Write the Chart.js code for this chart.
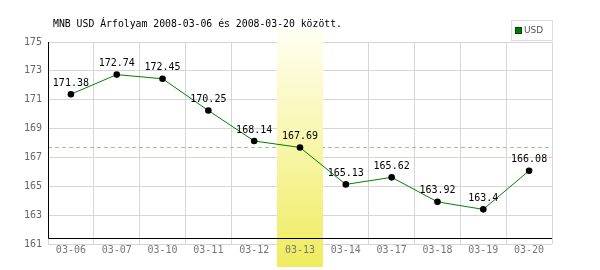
<!DOCTYPE html>
<html>
<head>
<meta charset="utf-8">
<script src="https://cdn.jsdelivr.net/npm/chart.js@4/dist/chart.umd.min.js"></script>
<style>
  html, body { margin: 0; padding: 0; background: #fff; }
  #wrap { width: 600px; height: 270px; }
</style>
</head>
<body>
<div id="wrap"><canvas id="c" width="600" height="270"></canvas></div>
<script>
// ---- Data ----
const titleText = "MNB USD Árfolyam 2008-03-06 és 2008-03-20 között.";
const seriesName = "USD";
const categories = ["03-06", "03-07", "03-10", "03-11", "03-12", "03-13", "03-14", "03-17", "03-18", "03-19", "03-20"];
const usdValues = [171.38, 172.74, 172.45, 170.25, 168.14, 167.69, 165.13, 165.62, 163.92, 163.4, 166.08];
const valueLabels = ["171.38", "172.74", "172.45", "170.25", "168.14", "167.69", "165.13", "165.62", "163.92", "163.4", "166.08"];
const highlightIndex = 5;
const referenceValue = 167.69;
const yMin = 161, yMax = 175, yStep = 2;

// ---- Styles ----
const MONO = '"DejaVu Sans Mono", "Liberation Mono", monospace';
const GRID = '#d6d6d6';

const decorPlugin = {
  id: 'decor',
  beforeDatasetsDraw(chart) {
    const { ctx, chartArea, scales } = chart;
    const x = scales.x, y = scales.y;
    // dashed reference line
    const ry = Math.round(y.getPixelForValue(referenceValue)) + 0.5;
    ctx.save();
    ctx.strokeStyle = '#93cc93';
    ctx.lineWidth = 1;
    ctx.setLineDash([4, 3]);
    ctx.beginPath();
    ctx.moveTo(chartArea.left, ry);
    ctx.lineTo(chartArea.right, ry);
    ctx.stroke();
    ctx.restore();
    // highlight column
    const cx = x.getPixelForValue(highlightIndex);
    const half = (x.getPixelForValue(1) - x.getPixelForValue(0)) / 2;
    const top = chartArea.top - 12, bottom = chart.height - 3;
    const g = ctx.createLinearGradient(0, top, 0, bottom);
    g.addColorStop(0, '#fffff2');
    g.addColorStop(1, '#efec5e');
    ctx.save();
    ctx.fillStyle = g;
    ctx.fillRect(Math.round(cx - half), top, Math.round(2 * half), bottom - top);
    ctx.restore();
  },
  afterDatasetsDraw(chart) {
    const { ctx, chartArea } = chart;
    // black axes
    const axisY = Math.round(chartArea.bottom - 6) + 0.5;
    const axisX = Math.round(chartArea.left) + 0.5;
    ctx.save();
    ctx.strokeStyle = '#000';
    ctx.lineWidth = 1;
    ctx.beginPath();
    ctx.moveTo(axisX, chartArea.top);
    ctx.lineTo(axisX, axisY);
    ctx.lineTo(chartArea.right, axisY);
    ctx.stroke();
    // value labels
    const meta = chart.getDatasetMeta(0);
    ctx.fillStyle = '#000';
    ctx.font = '10px ' + MONO;
    ctx.textAlign = 'center';
    ctx.textBaseline = 'middle';
    meta.data.forEach((pt, i) => {
      ctx.fillText(valueLabels[i], pt.x, pt.y - 11);
    });
    ctx.restore();
  },
  afterDraw(chart) {
    const { ctx } = chart;
    ctx.save();
    // title
    ctx.fillStyle = '#000';
    ctx.font = '9.8px ' + MONO;
    ctx.textAlign = 'left';
    ctx.textBaseline = 'middle';
    ctx.fillText(titleText, 53, 24.5);
    // legend box
    ctx.fillStyle = '#fff';
    ctx.fillRect(511, 20, 42, 21);
    ctx.strokeStyle = '#dddddd';
    ctx.lineWidth = 1;
    ctx.strokeRect(511.5, 20.5, 41, 20);
    ctx.fillStyle = '#007a00';
    ctx.fillRect(515, 27, 7, 7);
    ctx.strokeStyle = '#004400';
    ctx.strokeRect(515.5, 27.5, 6, 6);
    ctx.fillStyle = '#555';
    ctx.font = '9px "DejaVu Sans", sans-serif';
    ctx.textAlign = 'left';
    ctx.textBaseline = 'middle';
    ctx.fillText(seriesName, 524, 31);
    ctx.restore();
  }
};

new Chart(document.getElementById('c'), {
  type: 'line',
  data: {
    labels: categories,
    datasets: [{
      label: seriesName,
      data: usdValues,
      borderColor: '#008000',
      borderWidth: 1,
      pointRadius: 3.3,
      pointBackgroundColor: '#000',
      pointBorderColor: '#000',
      pointBorderWidth: 0,
      tension: 0,
      fill: false
    }]
  },
  options: {
    responsive: false,
    devicePixelRatio: 1,
    animation: false,
    layout: { padding: { top: 42, right: 48, left: 0, bottom: 0 } },
    plugins: { legend: { display: false }, title: { display: false }, tooltip: { enabled: false } },
    scales: {
      x: {
        type: 'category',
        offset: true,
        grid: { color: GRID, lineWidth: 1, offset: true, drawTicks: false },
        border: { display: false },
        ticks: { color: '#777', font: { family: MONO, size: 10 }, padding: 0, z: 1, maxRotation: 0, autoSkip: false },
        afterFit(s) { s.height = 26; }
      },
      y: {
        min: yMin, max: yMax,
        grid: { color: GRID, lineWidth: 1, drawTicks: false },
        border: { display: false },
        ticks: { stepSize: yStep, color: '#666', font: { family: MONO, size: 10 }, padding: 6 },
        afterFit(s) { s.width = 48; }
      }
    }
  },
  plugins: [decorPlugin]
});
</script>
</body>
</html>
